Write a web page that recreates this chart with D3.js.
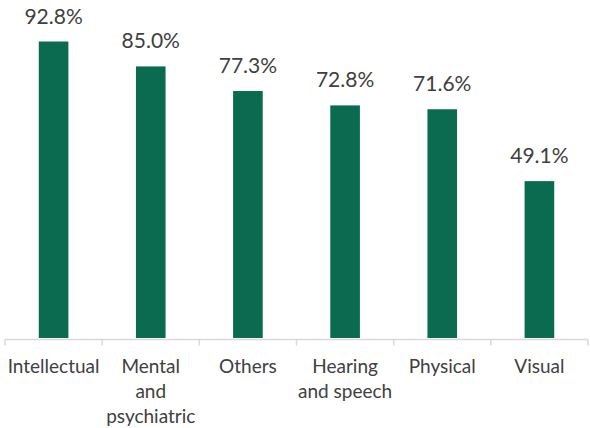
<!DOCTYPE html>
<html>
<head>
<meta charset="utf-8">
<script src="https://cdn.jsdelivr.net/npm/d3@7"></script>
<style>
  html, body { margin: 0; padding: 0; background: #ffffff; }
  svg { display: block; }
</style>
</head>
<body>
<svg id="chart" width="590" height="428"></svg>
<script>
// Share of people with each type of disability
const categories = ["Intellectual", "Mental and psychiatric", "Others", "Hearing and speech", "Physical", "Visual"];
const categoryLines = [["Intellectual"], ["Mental", "and", "psychiatric"], ["Others"], ["Hearing", "and speech"], ["Physical"], ["Visual"]];
const values = [92.8, 85.0, 77.3, 72.8, 71.6, 49.1];

const W = 590, H = 428;
const svg = d3.select("#chart");
const fontFamily = "Lato, 'Open Sans', sans-serif";

const x = d3.scaleBand()
  .domain(categories)
  .range([5, 588])
  .paddingInner(0.695)
  .paddingOuter(0.3475);

const y = d3.scaleLinear()
  .domain([0, 100])
  .range([338, 18.5]);

// Bars
svg.append("g")
  .selectAll("rect")
  .data(values)
  .join("rect")
  .attr("x", (d, i) => x(categories[i]))
  .attr("y", d => y(d))
  .attr("width", x.bandwidth())
  .attr("height", d => y(0) - y(d))
  .attr("fill", "#0a6b51");

// Category axis: baseline with tick marks between categories
const step = x.step();
const axisY = 339.5;
const axisG = svg.append("g");
axisG.append("line")
  .attr("x1", x.range()[0]).attr("x2", x.range()[1])
  .attr("y1", axisY).attr("y2", axisY)
  .attr("stroke", "#d9d9d9").attr("stroke-width", 1.5);
const tickXs = d3.range(categories.length + 1).map(i => x.range()[0] + i * step);
axisG.selectAll("line.tick")
  .data(tickXs)
  .join("line")
  .attr("class", "tick")
  .attr("x1", d => d).attr("x2", d => d)
  .attr("y1", axisY).attr("y2", axisY + 6)
  .attr("stroke", "#d9d9d9").attr("stroke-width", 1.5);

// Category labels
const labelG = svg.append("g")
  .attr("font-family", fontFamily)
  .attr("font-size", 19)
  .attr("fill", "#404040")
  .attr("text-anchor", "middle");
categories.forEach((c, i) => {
  const cx = x(c) + x.bandwidth() / 2;
  const t = labelG.append("text").attr("x", cx).attr("y", 373);
  categoryLines[i].forEach((line, j) => {
    t.append("tspan").attr("x", cx).attr("dy", j === 0 ? 0 : 25).text(line);
  });
});

// Value labels
svg.append("g")
  .attr("font-family", fontFamily)
  .attr("font-size", 21)
  .attr("fill", "#404040")
  .attr("text-anchor", "middle")
  .selectAll("text")
  .data(values)
  .join("text")
  .attr("x", (d, i) => x(categories[i]) + x.bandwidth() / 2)
  .attr("y", d => y(d) - 18)
  .text(d => d.toFixed(1) + "%");
</script>
</body>
</html>
